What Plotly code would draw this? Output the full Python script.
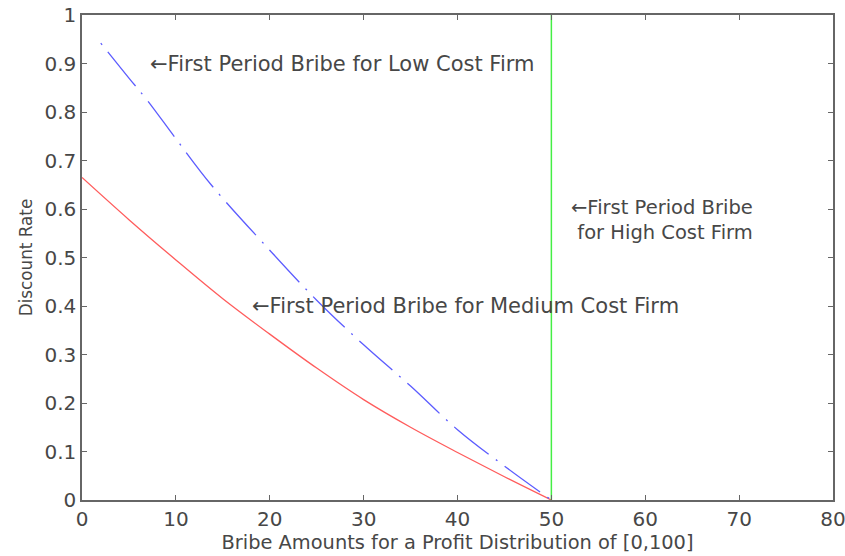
import plotly.graph_objects as go

# Data
low_x = [2, 5, 7, 10, 13.8, 20, 25, 30, 35, 40, 45, 50]
low_y = [0.942, 0.87, 0.823, 0.745, 0.649, 0.515, 0.412, 0.32, 0.235, 0.145, 0.07, 0.0]

med_x = [0, 5, 10, 15, 20, 25, 30, 35, 40, 45, 50]
med_y = [0.665, 0.578, 0.495, 0.415, 0.342, 0.272, 0.207, 0.15, 0.098, 0.048, 0.0]

high_x = [50, 50]
high_y = [0, 1]

x_ticks = [0, 10, 20, 30, 40, 50, 60, 70, 80]
y_ticks = [0, 0.1, 0.2, 0.3, 0.4, 0.5, 0.6, 0.7, 0.8, 0.9, 1]
y_tick_labels = ["0", "0.1", "0.2", "0.3", "0.4", "0.5", "0.6", "0.7", "0.8", "0.9", "1"]

FONT = "DejaVu Sans, Verdana, sans-serif"
TXT = "#474747"

fig = go.Figure()
fig.add_trace(go.Scatter(x=med_x, y=med_y, mode="lines", line_shape="spline",
                         line=dict(color="#ff5c5c", width=1.3), showlegend=False))
fig.add_trace(go.Scatter(x=low_x, y=low_y, mode="lines", line_shape="spline",
                         line=dict(color="#5c5cff", width=1.3, dash="2px,9px,44px,9px"),
                         showlegend=False))
fig.add_trace(go.Scatter(x=high_x, y=high_y, mode="lines",
                         line=dict(color="#44ee44", width=1.5), showlegend=False))

ann_font = dict(family=FONT, size=21, color=TXT)
fig.add_annotation(x=7, y=0.9, text="←First Period Bribe for Low Cost Firm",
                   showarrow=False, xanchor="left", yanchor="middle", font=ann_font)
fig.add_annotation(x=17.9, y=0.4, text="←First Period Bribe for Medium Cost Firm",
                   showarrow=False, xanchor="left", yanchor="middle", font=ann_font)
fig.add_annotation(x=61.8, y=0.578, text="←First Period Bribe<br>for High Cost Firm",
                   showarrow=False, xanchor="center", yanchor="middle", align="right",
                   font=dict(family=FONT, size=19.5, color=TXT))

axis_common = dict(showgrid=False, zeroline=False, showline=True, linecolor="#666666",
                   linewidth=1.5, mirror="ticks", ticks="inside", ticklen=5,
                   tickcolor="#666666", tickwidth=1, automargin=False,
                   ticklabeloverflow="allow",
                   tickfont=dict(family=FONT, size=20, color=TXT))

fig.update_xaxes(range=[0, 80], tickvals=x_ticks, **axis_common,
                 title=dict(text="Bribe Amounts for a Profit Distribution of [0,100]",
                            font=dict(family=FONT, size=19.4, color=TXT), standoff=2))
fig.update_yaxes(range=[0, 1], tickvals=y_ticks, ticktext=y_tick_labels, **axis_common,
                 title=dict(text="Discount Rate",
                            font=dict(family=FONT, size=16.8, color=TXT), standoff=8))

fig.update_layout(width=845, height=556, plot_bgcolor="white", paper_bgcolor="white",
                  margin=dict(l=82, r=12, t=15, b=56))

fig.write_html("out.html")
